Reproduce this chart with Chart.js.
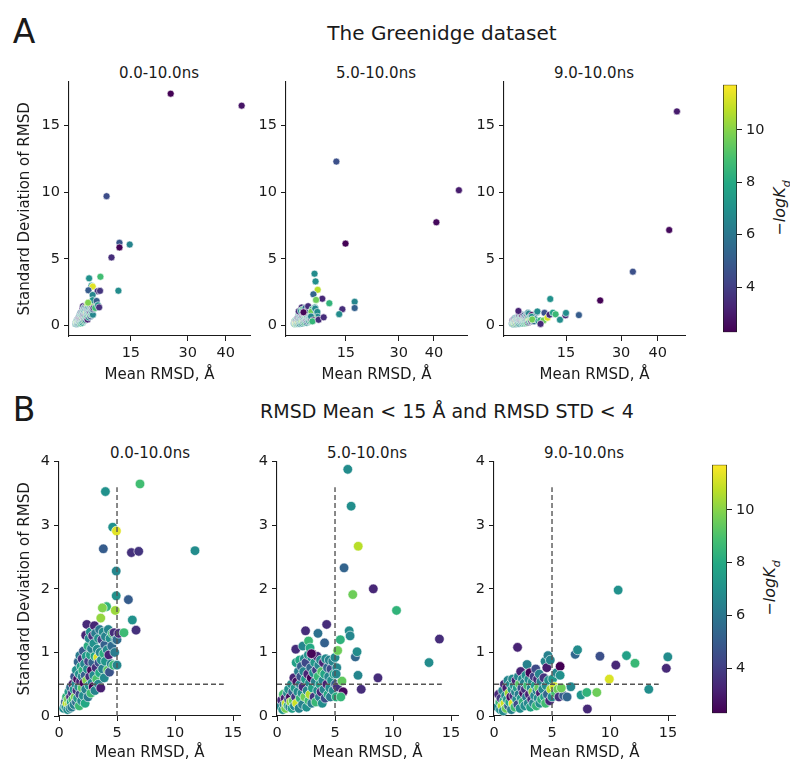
<!DOCTYPE html>
<html>
<head>
<meta charset="utf-8">
<script src="https://cdn.jsdelivr.net/npm/chart.js@4.4.1/dist/chart.umd.min.js"></script>
<style>
  body { margin: 0; width: 790px; height: 763px; overflow: hidden; background: #fff; position: relative;
         font-family: "DejaVu Sans", sans-serif; color: #1a1a1a; }
  canvas { position: absolute; }
  .txt { position: absolute; white-space: nowrap; transform: translate(-50%, -50%); line-height: 1; }
  .rot { transform: translate(-50%, -50%) rotate(-90deg); }
</style>
</head>
<body>
<div class="txt" style="left:24px;top:31px;font-size:33px">A</div>
<div class="txt" style="left:442px;top:33px;font-size:20px">The Greenidge dataset</div>
<div class="txt" style="left:24px;top:409px;font-size:33px">B</div>
<div class="txt" style="left:447px;top:411px;font-size:19px">RMSD Mean &lt; 15 Å and RMSD STD &lt; 4</div>

<div class="txt" style="left:159px;top:73px;font-size:15px">0.0-10.0ns</div>
<div class="txt" style="left:376px;top:73px;font-size:15px">5.0-10.0ns</div>
<div class="txt" style="left:594px;top:73px;font-size:15px">9.0-10.0ns</div>
<div class="txt" style="left:150px;top:453px;font-size:15px">0.0-10.0ns</div>
<div class="txt" style="left:367px;top:453px;font-size:15px">5.0-10.0ns</div>
<div class="txt" style="left:584px;top:453px;font-size:15px">9.0-10.0ns</div>

<div class="txt rot" style="left:782px;top:208px;font-size:16px"><i>−logK<sub style="font-size:11px">d</sub></i></div>
<div class="txt rot" style="left:772px;top:588px;font-size:16px"><i>−logK<sub style="font-size:11px">d</sub></i></div>

<canvas id="t1"></canvas>
<canvas id="t2"></canvas>
<canvas id="t3"></canvas>
<canvas id="b1"></canvas>
<canvas id="b2"></canvas>
<canvas id="b3"></canvas>
<canvas id="cbTop"></canvas>
<canvas id="cbBottom"></canvas>

<script>
// каждая точка: [mean RMSD, std RMSD, -logKd]
const rmsd0to10 = [
  [0.4,0.12,6.8],[0.5,0.16,6.5],[0.55,0.22,5.2],[0.6,0.14,7.2],[0.65,0.3,8.4],[0.7,0.2,10.8],[0.75,0.1,6.9],
  [0.8,0.26,9.6],[0.85,0.38,7.5],[0.9,0.18,10.5],[0.95,0.12,6.6],[1.0,0.3,3.4],[1.0,0.45,5.8],[1.05,0.22,7.8],
  [1.1,0.14,6.2],[1.15,0.36,3.8],[1.2,0.5,3.0],[1.2,0.26,8.9],
  [1.3,0.18,6.4],[1.3,0.42,7.1],[1.35,0.62,4.8],[1.4,0.3,9.8],[1.45,0.5,6.6],[1.5,0.22,5.6],[1.5,0.72,6.9],
  [1.55,0.4,3.6],[1.6,0.58,2.6],[1.6,0.28,7.4],[1.65,0.85,5.4],[1.7,0.46,6.8],[1.75,0.16,8.6],[1.75,0.66,7.0],
  [1.8,0.95,6.2],[1.8,0.34,4.4],[1.85,0.54,3.2],[1.9,0.78,7.6],[1.95,0.24,6.7],[2.0,0.44,9.2],[2.0,0.62,6.5],[2.0,0.9,3.6],
  [2.05,0.72,8.3],[2.1,0.32,6.9],[2.1,1.02,4.9],[2.15,0.52,2.4],[2.2,0.82,6.6],[2.25,0.2,7.9],[2.25,0.64,5.1],
  [2.3,1.27,3.3],[2.3,0.42,6.4],[2.35,0.94,7.3],[2.4,1.44,3.4],[2.4,0.56,9.9],[2.45,0.74,6.8],[2.5,0.3,6.1],
  [2.5,1.1,8.1],[2.55,0.86,4.2],[2.6,0.48,7.2],[2.6,1.22,6.6],[2.65,0.62,3.5],[2.7,1.32,6.9],[2.7,0.96,7.6],
  [2.75,0.36,8.7],[2.8,0.72,2.5],[2.8,1.06,6.3],[2.85,0.52,6.6],[2.9,0.84,5.3],[2.9,1.26,3.6],[2.95,0.46,2.3],
  [3.0,1.14,7.0],[3.0,0.64,6.7],
  [3.05,1.42,3.3],[3.1,0.94,7.8],[3.1,0.4,6.5],[3.15,1.3,6.2],[3.2,0.76,3.6],[3.25,0.58,9.0],[3.3,1.05,6.8],
  [3.35,0.92,11.2],[3.4,1.22,7.1],[3.4,0.5,6.6],[3.45,0.84,4.6],[3.5,1.36,6.0],[3.5,0.68,8.0],[3.55,1.0,6.6],
  [3.6,0.44,3.1],[3.6,1.54,10.2],[3.65,0.88,6.9],[3.7,1.2,4.1],[3.75,0.74,6.4],[3.8,1.32,6.8],[3.8,1.7,10.0],
  [3.85,0.98,8.2],[3.9,0.6,6.7],[3.95,1.12,5.2],[4.0,0.86,7.2],[4.0,1.25,6.5],
  [4.1,1.72,8.4],[4.15,1.04,6.7],[4.2,0.72,9.3],[4.25,1.36,6.6],[4.3,0.96,3.2],[4.35,0.69,4.7],[4.4,1.22,6.9],
  [4.5,0.82,6.4],[4.55,1.1,5.6],[4.6,1.3,8.8],[4.7,0.8,8.6],[4.75,1.31,3.5],[4.8,1.0,6.2],[4.85,1.66,10.3],
  [4.9,1.2,6.8],[5.0,0.8,6.6],[5.0,1.2,5.6],[5.15,1.3,3.4],[5.6,1.31,8.7],
  [6.98,3.65,8.8],[4.0,3.53,7.0],[4.63,2.97,7.0],[4.95,2.91,11.3],[3.82,2.63,5.0],[6.24,2.57,3.6],[6.87,2.59,3.7],
  [11.72,2.6,6.8],[4.93,2.28,6.6],[4.93,1.89,7.0],[5.98,1.83,5.0],[3.74,1.7,9.9],[6.32,1.51,7.0],[6.64,1.35,3.6],
  [25.5,17.4,2.3],[44.2,16.5,2.8],[8.6,9.7,4.5],[12.0,6.2,4.8],[12.0,5.85,2.3],[14.7,6.07,6.5],[9.9,5.1,3.5]
];

const rmsd5to10 = [
  [0.3,0.15,6.6],[0.4,0.25,3.4],[0.5,0.1,7.2],[0.55,0.34,8.9],[0.6,0.18,6.1],[0.7,0.28,3.0],[0.75,0.12,9.8],
  [0.8,0.2,10.9],[0.9,0.36,6.7],[0.95,0.16,8.3],[1.0,0.26,4.6],[1.0,0.42,7.0],[1.1,0.14,6.4],[1.15,0.3,2.6],
  [1.2,0.22,10.2],[1.25,0.5,6.9],[1.3,0.12,7.6],[1.35,0.38,5.3],[1.4,0.24,9.4],[1.45,0.6,3.3],[1.5,0.16,6.6],
  [1.55,0.44,7.3],[1.6,0.3,3.8],[1.65,0.84,7.6],[1.7,0.54,2.7],[1.7,0.2,11.0],[1.8,0.38,6.8],[1.85,0.7,6.3],
  [1.9,0.12,6.5],[1.95,0.88,7.9],[2.0,0.28,8.5],[2.0,0.5,6.6],[2.05,0.62,4.6],
  [2.1,0.78,5.2],[2.15,0.36,6.9],[2.2,0.18,6.4],[2.25,0.46,3.5],[2.3,0.7,6.6],[2.35,0.9,6.8],[2.4,0.3,9.6],
  [2.45,0.58,7.4],[2.5,0.84,4.3],[2.55,0.14,7.0],[2.6,0.4,6.5],[2.65,0.66,3.2],[2.7,0.96,7.1],[2.75,0.24,8.7],
  [2.8,0.52,6.7],[2.85,0.34,10.6],[2.9,0.76,5.4],[2.95,0.6,2.4],[3.0,0.92,6.6],[3.0,0.2,6.2],[3.05,0.44,7.6],
  [3.1,0.97,2.3],[3.15,0.68,6.9],[3.2,0.3,3.7],[3.25,0.84,7.3],[3.3,0.54,6.4],[3.35,0.22,8.6],[3.4,0.72,4.0],
  [3.45,0.94,3.5],[3.5,0.4,6.8],[3.55,0.62,8.5],[3.6,0.8,6.6],[3.65,0.3,6.3],[3.7,0.5,7.5],[3.75,0.88,6.7],
  [3.8,0.38,3.3],[3.85,0.7,9.1],[3.9,0.2,6.9],[3.95,0.56,6.6],[4.0,0.84,3.2],[4.05,0.42,6.5],[4.1,0.66,7.8],
  [4.15,0.28,4.5],[4.2,0.9,6.7],[4.3,0.5,3.1],[4.35,0.76,5.5],[4.4,0.34,8.0],[4.45,0.62,6.6],[4.5,0.88,6.4],
  [4.55,0.44,6.9],[4.6,0.3,6.2],[4.65,0.74,4.4],[4.7,0.56,7.0],[4.8,0.86,6.5],[4.85,0.4,6.8],[4.9,0.66,7.6],
  [5.0,0.92,6.7],[5.05,0.5,5.0],[5.1,0.3,8.2],[5.15,0.76,6.6],[5.2,0.46,3.6],
  [1.62,1.05,3.5],[2.46,1.34,3.5],[2.23,1.1,6.6],[2.72,1.18,8.6],[2.85,1.07,8.0],[3.53,1.3,5.8],[4.1,1.15,5.2],
  [4.28,1.44,3.5],[2.97,0.98,2.4],[5.46,1.2,8.3],[5.23,1.03,9.6],[6.22,1.34,6.8],[6.3,1.26,6.6],[6.75,0.93,5.4],
  [6.9,1.01,6.8],[6.98,0.64,6.6],[5.6,0.55,9.4],[5.1,0.66,6.6],[5.7,0.38,2.5],[5.5,0.3,8.5],[7.26,0.42,3.5],[8.7,0.6,3.5],
  [6.1,3.88,6.8],[6.39,3.3,6.9],[7.0,2.67,10.7],[5.78,2.33,5.3],[8.3,2.0,3.3],[6.53,1.91,9.6],[10.3,1.66,8.4],
  [14.0,1.21,3.5],[13.1,0.84,6.8],
  [12.3,12.3,4.6],[47.1,10.15,3.0],[40.7,7.74,2.5],[14.9,6.14,2.3],[17.5,1.77,6.6],[17.5,1.3,5.2]
];

const rmsd9to10 = [
  [0.3,0.14,6.6],[0.4,0.34,3.3],[0.5,0.22,8.6],[0.55,0.1,6.9],[0.6,0.28,3.8],[0.7,0.16,10.6],[0.75,0.4,6.4],
  [0.8,0.08,6.7],[0.85,0.24,8.0],[0.9,0.5,3.4],[0.95,0.2,11.0],[1.0,0.32,6.8],[1.05,0.12,9.6],[1.1,0.44,3.0],
  [1.15,0.26,7.2],[1.2,0.56,6.6],[1.25,0.16,5.2],[1.3,0.36,10.4],[1.35,0.22,7.9],[1.4,0.5,6.9],[1.45,0.3,2.6],
  [1.5,0.1,6.4],[1.55,0.42,7.4],[1.6,0.58,6.7],[1.65,0.2,11.2],[1.7,0.32,3.6],[1.75,0.48,6.8],[1.8,0.14,8.8],
  [1.85,0.38,6.5],[1.9,0.56,3.3],[1.95,0.26,6.9],[2.0,0.44,7.6],
  [2.05,0.18,4.4],[2.1,0.62,6.6],[2.15,0.34,6.2],[2.2,0.5,9.2],[2.25,0.12,6.8],[2.3,0.7,3.2],[2.35,0.28,7.2],
  [2.4,0.44,4.6],[2.45,0.58,6.7],[2.5,0.22,8.4],[2.55,0.36,2.6],[2.6,0.52,6.5],[2.65,0.16,6.9],[2.7,0.42,3.6],
  [2.75,0.64,7.0],[2.8,0.3,6.3],[2.85,0.81,6.4],[2.9,0.48,8.7],[2.95,0.2,6.6],[3.0,0.58,6.8],[3.05,0.34,3.1],
  [3.1,0.68,2.4],[3.15,0.14,7.7],[3.2,0.44,6.6],[3.25,0.26,3.5],[3.3,0.54,6.9],[3.35,0.38,10.0],[3.4,0.2,6.5],
  [3.45,0.62,4.1],[3.5,0.32,6.7],[3.55,0.48,7.4],[3.6,0.74,4.4],[3.65,0.16,8.5],[3.7,0.4,6.6],[3.75,0.58,3.4],
  [3.8,0.28,6.8],[3.85,0.44,9.4],[3.9,0.66,6.5],[3.95,0.2,6.9],[4.0,0.36,3.0],[4.05,0.54,6.4],[4.1,0.26,8.2],
  [4.2,0.42,6.6],[4.3,0.6,3.7],[4.35,0.3,7.8],[4.4,0.86,6.6],[4.45,0.2,8.8],[4.5,0.48,6.8],[4.55,0.76,3.0],
  [4.6,0.34,5.3],[4.65,0.95,6.4],[4.7,0.56,6.9],[4.8,0.24,3.3],[4.85,0.88,6.5],[4.9,0.42,10.6],[5.0,0.3,6.7],
  [5.05,0.58,7.2],[5.2,0.46,11.0],[5.3,0.36,8.9],[5.4,0.68,6.6],[5.5,0.42,9.6],
  [2.03,1.08,3.2],[5.7,0.78,2.2],[5.7,0.64,7.0],[5.6,0.3,3.6],[6.0,0.32,5.0],[6.3,0.3,5.4],[6.62,0.46,6.6],
  [5.8,0.44,9.6],[7.0,0.97,5.4],[7.2,1.04,6.8],[7.5,0.33,7.2],[8.0,0.37,8.4],[8.86,0.37,9.6],[8.05,0.11,3.4],
  [9.13,0.94,4.6],[9.94,0.58,11.2],[10.5,0.8,3.3],[10.7,1.98,7.0],[11.42,0.95,7.6],[12.15,0.83,8.6],
  [13.34,0.42,6.9],[14.85,0.75,3.4],[14.98,0.93,6.8],
  [45.2,16.07,3.0],[43.1,7.16,2.5],[33.2,4.03,4.6],[24.3,1.87,2.3],[18.5,0.77,5.0]
];

// оси
const topXTicks = [15, 30, 40];
const topYTicks = [0, 5, 10, 15];
const bottomXTicks = [0, 5, 10, 15];
const bottomYTicks = [0, 1, 2, 3, 4];
const colorbarTicks = [4, 6, 8, 10];
const kdMin = 2.28, kdMax = 11.72;

// пороги для панели B
const cutMean = 15, cutStd = 4;
const refVertical = [[5, 0], [5, 3.6]];
const refHorizontal = [[0, 0.5], [14.2, 0.5]];

const viridisStops = [
  [68,1,84],[72,36,117],[65,68,135],[53,95,141],[42,120,142],[33,145,140],
  [34,168,132],[68,191,112],[122,209,81],[189,223,38],[253,231,37]
];

function viridis(v) {
  let t = (v - kdMin) / (kdMax - kdMin);
  t = Math.min(1, Math.max(0, t));
  const p = t * (viridisStops.length - 1);
  const i = Math.min(Math.floor(p), viridisStops.length - 2);
  const f = p - i;
  const a = viridisStops[i], b = viridisStops[i + 1];
  const c = a.map((ch, k) => Math.round(ch + (b[k] - ch) * f));
  return `rgb(${c[0]},${c[1]},${c[2]})`;
}

Chart.defaults.font.family = '"DejaVu Sans", sans-serif';
Chart.defaults.color = '#1a1a1a';

function axis(min, max, ticks, fitKey, fitVal, title) {
  return {
    type: 'linear', min, max,
    grid: { display: true, drawOnChartArea: false, drawTicks: true, tickLength: 5, color: '#1a1a1a' },
    border: { display: true, color: '#1a1a1a', width: 1.1 },
    ticks: { color: '#1a1a1a', font: { size: 14.5 }, padding: 4, autoSkip: false, maxRotation: 0 },
    afterBuildTicks: s => { s.ticks = ticks.map(v => ({ value: v })); },
    afterFit: s => { s[fitKey] = fitVal; },
    title: title
  };
}

function drawPanel(id, g, points, opts) {
  const cv = document.getElementById(id);
  const yW = opts.yTitle ? g.left : 40;
  const padTop = 12, padRight = 14;
  cv.width = yW + (g.right - g.left) + padRight;
  cv.height = padTop + (g.bottom - g.top) + g.xH;
  cv.style.left = (g.left - yW) + 'px';
  cv.style.top = (g.top - padTop) + 'px';

  const datasets = [];
  (opts.refLines || []).forEach(line => {
    datasets.push({
      type: 'line', order: 0,
      data: line.map(p => ({ x: p[0], y: p[1] })),
      borderColor: '#555', borderWidth: 1.4, borderDash: [5, 3],
      pointRadius: 0, fill: false
    });
  });
  datasets.push({
    type: 'scatter', order: 1,
    data: points.map(p => ({ x: p[0], y: p[1] })),
    pointBackgroundColor: points.map(p => viridis(p[2])),
    pointBorderColor: '#ffffff', pointBorderWidth: 0.6,
    pointRadius: opts.radius
  });

  new Chart(cv, {
    type: 'scatter',
    data: { datasets },
    options: {
      responsive: false, animation: false, devicePixelRatio: 1, events: [],
      layout: { padding: { top: padTop, right: padRight, left: 0, bottom: 0 } },
      plugins: { legend: { display: false }, tooltip: { enabled: false } },
      scales: {
        x: axis(opts.x[0], opts.x[1], opts.xTicks, 'height', g.xH,
          { display: true, text: 'Mean RMSD, Å', font: { size: 15 }, padding: { top: 0, bottom: g.xTitlePad } }),
        y: axis(opts.y[0], opts.y[1], opts.yTicks, 'width', yW,
          { display: !!opts.yTitle, text: 'Standard Deviation of RMSD', font: { size: 15 }, padding: { top: 16, bottom: 0 } })
      }
    }
  });
}

function drawColorbar(id, g) {
  const cv = document.getElementById(id);
  const pad = 10, axisW = 40;
  cv.width = (g.right - g.left) + axisW;
  cv.height = (g.bottom - g.top) + pad * 2;
  cv.style.left = g.left + 'px';
  cv.style.top = (g.top - pad) + 'px';
  new Chart(cv, {
    type: 'bar',
    data: {
      labels: ['-logKd'],
      datasets: [{
        data: [[kdMin, kdMax]],
        backgroundColor: c => {
          const a = c.chart.chartArea;
          if (!a) return '#888';
          const grad = c.chart.ctx.createLinearGradient(0, a.bottom, 0, a.top);
          viridisStops.forEach((s, i) => grad.addColorStop(i / (viridisStops.length - 1), `rgb(${s[0]},${s[1]},${s[2]})`));
          return grad;
        },
        borderColor: '#1a1a1a', borderWidth: 1, borderSkipped: false,
        barPercentage: 1, categoryPercentage: 1
      }]
    },
    options: {
      responsive: false, animation: false, devicePixelRatio: 1, events: [],
      layout: { padding: { top: pad, bottom: pad, left: 0, right: 0 } },
      plugins: { legend: { display: false }, tooltip: { enabled: false } },
      scales: {
        x: { display: false },
        y: {
          position: 'right', min: kdMin, max: kdMax,
          grid: { display: true, drawOnChartArea: false, drawTicks: true, tickLength: 5, color: '#1a1a1a' },
          border: { display: false },
          ticks: { color: '#1a1a1a', font: { size: 14.5 }, padding: 4 },
          afterBuildTicks: s => { s.ticks = colorbarTicks.map(v => ({ value: v })); },
          afterFit: s => { s.width = axisW; }
        }
      }
    }
  });
}

const inWindow = p => p[0] < cutMean && p[1] < cutStd;
const topY = [-0.8, 18.3];
const botX = [0, 15.6], botY = [0, 4];

drawPanel('t1', { left: 69, top: 81, right: 250, bottom: 336, xH: 50, xTitlePad: 2 }, rmsd0to10,
  { x: [-1.3, 46.4], y: topY, xTicks: topXTicks, yTicks: topYTicks, yTitle: true, radius: 3.5 });
drawPanel('t2', { left: 286, top: 81, right: 467, bottom: 336, xH: 50, xTitlePad: 2 }, rmsd5to10,
  { x: [-2.0, 49.4], y: topY, xTicks: topXTicks, yTicks: topYTicks, radius: 3.5 });
drawPanel('t3', { left: 504, top: 81, right: 685, bottom: 336, xH: 50, xTitlePad: 2 }, rmsd9to10,
  { x: [-1.9, 47.4], y: topY, xTicks: topXTicks, yTicks: topYTicks, radius: 3.5 });

const refLines = [refVertical, refHorizontal];
drawPanel('b1', { left: 59, top: 461, right: 240, bottom: 716, xH: 46, xTitlePad: 0 }, rmsd0to10.filter(inWindow),
  { x: botX, y: botY, xTicks: bottomXTicks, yTicks: bottomYTicks, yTitle: true, radius: 4.8, refLines });
drawPanel('b2', { left: 277, top: 461, right: 458, bottom: 716, xH: 46, xTitlePad: 0 }, rmsd5to10.filter(inWindow),
  { x: botX, y: botY, xTicks: bottomXTicks, yTicks: bottomYTicks, radius: 4.8, refLines });
drawPanel('b3', { left: 494, top: 461, right: 675, bottom: 716, xH: 46, xTitlePad: 0 }, rmsd9to10.filter(inWindow),
  { x: botX, y: botY, xTicks: bottomXTicks, yTicks: bottomYTicks, radius: 4.8, refLines });

drawColorbar('cbTop', { left: 723, top: 82, right: 737, bottom: 335 });
drawColorbar('cbBottom', { left: 712, top: 462, right: 727, bottom: 716 });
</script>
</body>
</html>
